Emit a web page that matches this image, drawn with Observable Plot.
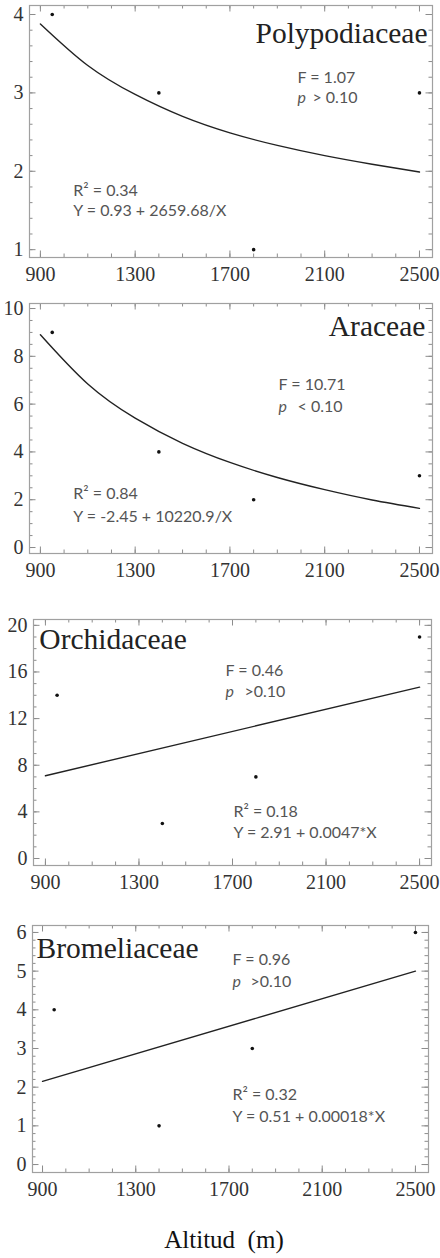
<!DOCTYPE html>
<html><head><meta charset="utf-8">
<script src="https://cdn.jsdelivr.net/npm/d3@7"></script>
<script src="https://cdn.jsdelivr.net/npm/@observablehq/plot@0.6"></script>
<style>
body{margin:0;background:#fff;}
#wrap{width:440px;position:relative;}
#wrap svg{display:block;}
#cap{position:absolute;top:1227px;left:0;width:448px;text-align:center;white-space:pre;font-family:"Liberation Serif",serif;font-size:25px;line-height:25px;color:#111;}
</style></head><body>
<div id="wrap"></div>
<div id="cap">Altitud  (m)</div>
<script>
// Observed data (altitude in m, number of species)
const altitudes = [950, 1400, 1800, 2500];
const polyCounts = [4, 3, 1, 3];
const araCounts = [9, 4, 2, 3];
const orchCounts = [14, 3, 7, 19];
const bromCounts = [4, 1, 3, 6];

// Fitted curves
const curveX = [900, 1100, 1300, 1500, 1700, 1900, 2100, 2300, 2500];
const polyFit = [3.88, 3.35, 2.98, 2.70, 2.49, 2.33, 2.20, 2.09, 1.99];
const araFit = [8.90, 6.84, 5.41, 4.36, 3.56, 2.93, 2.42, 1.99, 1.64];
const lineX = [900, 2500];
const orchFit = [7.1, 14.7];
const bromFit = [2.15, 5.0];

// Tick labels
const xTicks = [900, 1300, 1700, 2100, 2500];
const polyTicks = [1, 2, 3, 4];
const araTicks = [0, 2, 4, 6, 8, 10];
const orchTicks = [0, 4, 8, 12, 16, 20];
const bromTicks = [0, 1, 2, 3, 4, 5, 6];

// Titles and statistics text
const titles = ["Polypodiaceae", "Araceae", "Orchidaceae", "Bromeliaceae"];
const fStats = ["F = 1.07", "F = 10.71", "F = 0.46", "F = 0.96"];
const pStats = ["> 0.10", "< 0.10", ">0.10", ">0.10"];
const r2Stats = ["R² = 0.34", "R² = 0.84", "R² = 0.18", "R² = 0.32"];
const eqStats = ["Y = 0.93 + 2659.68/X", "Y = -2.45 + 10220.9/X", "Y = 2.91 + 0.0047*X", "Y = 0.51 + 0.00018*X"];

const xMinor = d3.range(900, 2501, 100);

const panels = [
  {counts: polyCounts, fx: curveX, fy: polyFit, yTicks: polyTicks, yMinor: d3.range(1, 4.001, 0.2),
   h: 295, mt: 5, mb: 38, ml: 29, mr: 8, xd: [854, 2555], yd: [0.9, 4.115],
   title: {x: 2534, y: 3.64, a: "end"}, f: {x: 1985, y: 3.12}, p: {x: 1985, y: 2.865, dx: 15},
   r2: {x: 1039, y: 1.69}, eq: {x: 1039, y: 1.434}},
  {counts: araCounts, fx: curveX, fy: araFit, yTicks: araTicks, yMinor: d3.range(0, 10.001, 0.5),
   h: 305, mt: 8, mb: 47, ml: 29, mr: 8, xd: [854, 2555], yd: [-0.25, 10.21],
   title: {x: 2525, y: 8.83, a: "end"}, f: {x: 1905, y: 6.57}, p: {x: 1905, y: 5.65, dx: 19},
   r2: {x: 1039, y: 2.05}, eq: {x: 1039, y: 1.05}},
  {counts: orchCounts, fx: lineX, fy: orchFit, yTicks: orchTicks, yMinor: d3.range(0, 20.001, 1),
   h: 305, mt: 19, mb: 40, ml: 33, mr: 9, xd: [849, 2551], yd: [-0.6, 20.5],
   title: {x: 874, y: 17.94, a: "start"}, f: {x: 1670, y: 15.62}, p: {x: 1670, y: 13.82, dx: 19},
   r2: {x: 1704, y: 3.6}, eq: {x: 1704, y: 1.8}},
  {counts: bromCounts, fx: lineX, fy: bromFit, yTicks: bromTicks, yMinor: d3.range(0, 6.001, 0.2),
   h: 305, mt: 20, mb: 38, ml: 32, mr: 12, xd: [857, 2556], yd: [-0.206, 6.18],
   title: {x: 874, y: 5.35, a: "start"}, f: {x: 1715, y: 5.17}, p: {x: 1715, y: 4.58, dx: 18},
   r2: {x: 1715, y: 1.68}, eq: {x: 1715, y: 1.11}}
];

const wrap = document.getElementById("wrap");
const tk = "#8c8c8c";
const serif = "Liberation Serif, DejaVu Serif, serif";
const annFont = {fontFamily: "Lato, Open Sans, sans-serif", fontSize: 16, fill: "#555", textAnchor: "start", lineAnchor: "bottom"};
const tickFont = {fontFamily: serif, fontSize: 20, fill: "#333"};

panels.forEach((o, i) => {
  const fw = 440 - o.ml - o.mr, fh = o.h - o.mt - o.mb;
  const pts = altitudes.map((a, j) => ({x: a, y: o.counts[j]}));
  const fit = o.fx.map((a, j) => ({x: a, y: o.fy[j]}));
  const svg = Plot.plot({
    width: 440, height: o.h,
    marginTop: o.mt, marginBottom: o.mb, marginLeft: o.ml, marginRight: o.mr,
    x: {domain: o.xd, axis: null},
    y: {domain: o.yd, axis: null},
    style: {background: "#fff"},
    marks: [
      Plot.ruleX(xMinor, {x: d => d, stroke: tk, insetTop: fh - 3.5}),
      Plot.ruleX(xTicks, {x: d => d, stroke: tk, insetTop: fh - 6.5}),
      Plot.ruleX(xMinor, {x: d => d, stroke: tk, insetBottom: fh - 3.5}),
      Plot.ruleX(xTicks, {x: d => d, stroke: tk, insetBottom: fh - 6.5}),
      Plot.ruleY(o.yMinor, {y: d => d, stroke: tk, insetRight: fw - 3.5}),
      Plot.ruleY(o.yTicks, {y: d => d, stroke: tk, insetRight: fw - 6.5}),
      Plot.ruleY(o.yMinor, {y: d => d, stroke: tk, insetLeft: fw - 3.5}),
      Plot.ruleY(o.yTicks, {y: d => d, stroke: tk, insetLeft: fw - 6.5}),
      Plot.frame({stroke: "#a0a0a0", strokeWidth: 1.2}),
      Plot.text(xTicks, {x: d => d, text: d => String(d), frameAnchor: "bottom", lineAnchor: "top", dy: 9, ...tickFont}),
      Plot.text(o.yTicks, {y: d => d, text: d => String(d), frameAnchor: "left", textAnchor: "end", lineAnchor: "middle", dx: -6, ...tickFont}),
      Plot.line(fit, {x: "x", y: "y", curve: "natural", stroke: "#222", strokeWidth: 1.4}),
      Plot.dot(pts, {x: "x", y: "y", r: 1.8, fill: "#111"}),
      Plot.text([titles[i]], {x: o.title.x, y: o.title.y, text: d => d, textAnchor: o.title.a, lineAnchor: "bottom",
        fontSize: 29.5, fill: "#222", fontFamily: serif}),
      Plot.text([fStats[i]], {x: o.f.x, y: o.f.y, text: d => d, ...annFont}),
      Plot.text(["p"], {x: o.p.x, y: o.p.y, text: d => d, ...annFont, fontStyle: "italic"}),
      Plot.text([pStats[i]], {x: o.p.x, y: o.p.y, text: d => d, ...annFont, dx: o.p.dx}),
      Plot.text([r2Stats[i]], {x: o.r2.x, y: o.r2.y, text: d => d, ...annFont}),
      Plot.text([eqStats[i]], {x: o.eq.x, y: o.eq.y, text: d => d, ...annFont})
    ]
  });
  wrap.appendChild(svg);
});
</script>
</body></html>
